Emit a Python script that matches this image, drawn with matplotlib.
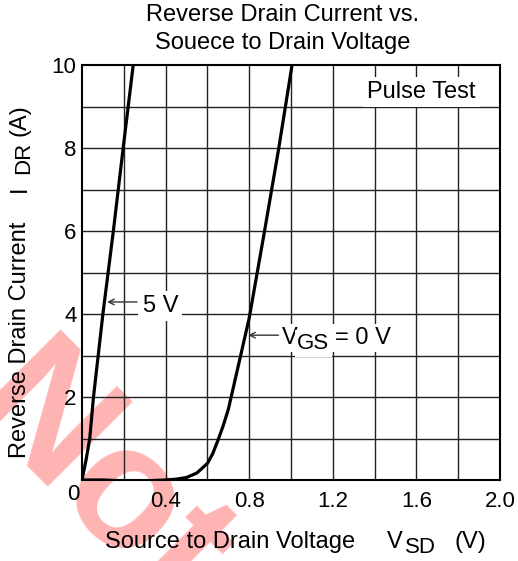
import numpy as np
import matplotlib
matplotlib.use("Agg")
import matplotlib.pyplot as plt

plt.rcParams['font.family'] = ['Liberation Sans', 'DejaVu Sans']

# curve readings (V_SD in V, I_DR in A)
vsd_5v = [0.0, 0.02, 0.037, 0.055, 0.10, 0.15, 0.197, 0.245]
idr_5v = [0.0, 0.5, 1.0, 2.0, 4.0, 6.0, 8.0, 10.0]

vsd_0v = [0.0, 0.1, 0.2, 0.3, 0.4, 0.45, 0.5, 0.55, 0.6, 0.625, 0.65, 0.675, 0.7, 0.75, 0.8, 0.87, 0.94, 1.005]
idr_0v = [0.0, 0.0, -0.02, -0.02, 0.0, 0.02, 0.06, 0.17, 0.4, 0.63, 0.95, 1.3, 1.7, 2.8, 3.9, 5.9, 7.95, 10.0]

x_ticks = [0.4, 0.8, 1.2, 1.6, 2.0]
x_ticklabels = ['0.4', '0.8', '1.2', '1.6', '2.0']
y_ticks = [2, 4, 6, 8, 10]
y_ticklabels = ['2', '4', '6', '8', '10']

W, H = 518, 561
def fx(px):
    return px / W
def fy(py):
    return 1 - py / H

fig = plt.figure(figsize=(5.18, 5.61), dpi=100)
ax = fig.add_axes([fx(82), fy(480), 418/W, 415/H])
ax.patch.set_alpha(0)

# watermark behind the plot
fig.text(fx(97), fy(484), 'Not', color='#ffb4b4', fontsize=125,
         fontweight='bold', rotation=-45,
         ha='center', va='center', zorder=-1)

ax.set_xlim(0, 2.0)
ax.set_ylim(0, 10)
for x in np.arange(0.2, 2.0, 0.2):
    ax.axvline(x, color='#222222', lw=1.0, zorder=1)
for y in range(1, 10):
    ax.axhline(y, color='#222222', lw=1.0, zorder=1)

ax.plot(vsd_5v, idr_5v, color='black', lw=2.3, zorder=3)
ax.plot(vsd_0v, idr_0v, color='black', lw=2.3, zorder=3)

ax.set_xticks(x_ticks)
ax.set_xticklabels(x_ticklabels)
ax.set_yticks(y_ticks)
ax.set_yticklabels(y_ticklabels)
ax.tick_params(length=0, labelsize=16, pad=4)
ax.tick_params(axis='x', pad=8)
ax.text(-0.01, -0.1, '0', fontsize=16, ha='right', va='top')

for s in ax.spines.values():
    s.set_linewidth(1.5)
    s.set_zorder(4)

white = dict(facecolor='white', edgecolor='none', pad=2)

# Pulse Test
ax.text(1.364, 9.2, 'Pulse Test', fontsize=17, ha='left', va='baseline', zorder=5,
        bbox=dict(facecolor='white', edgecolor='none', pad=3))

# 5 V label and arrow
ax.text(0.29, 4.05, '5 V', fontsize=17, ha='left', va='baseline', zorder=5,
        bbox=dict(facecolor='white', edgecolor='none', pad=3))
ax.annotate('', xy=(0.12, 4.29), xytext=(0.263, 4.29), zorder=6,
            arrowprops=dict(arrowstyle='->', color='#333333', lw=1.0, shrinkA=0, shrinkB=0))

# V_GS = 0 V label and arrow
ax.text(0.957, 3.28, 'V', fontsize=17, ha='left', va='baseline', zorder=5, bbox=white)
ax.text(1.03, 3.16, 'GS', fontsize=16, ha='left', va='baseline', zorder=5, bbox=white)
ax.text(1.21, 3.28, '= 0 V', fontsize=17, ha='left', va='baseline', zorder=5, bbox=white)
ax.annotate('', xy=(0.795, 3.49), xytext=(0.94, 3.49), zorder=6,
            arrowprops=dict(arrowstyle='->', color='#333333', lw=1.0, shrinkA=0, shrinkB=0))

# title
fig.text(fx(283), fy(15), 'Reverse Drain Current vs.', fontsize=17, ha='center', va='center')
fig.text(fx(283), fy(43), 'Souece to Drain Voltage', fontsize=17, ha='center', va='center')

# x label with lowered subscript
fig.text(fx(105), fy(548), 'Source to Drain Voltage', fontsize=17, ha='left', va='baseline')
fig.text(fx(387), fy(548), 'V', fontsize=17, ha='left', va='baseline')
fig.text(fx(405), fy(553), 'SD', fontsize=16, ha='left', va='baseline')
fig.text(fx(454), fy(548), '(V)', fontsize=17, ha='left', va='baseline')

# y label with lowered subscript (rotated)
rot = dict(rotation=90, rotation_mode='anchor', ha='left', va='baseline')
fig.text(fx(26), fy(458), 'Reverse Drain Current', fontsize=17, **rot)
fig.text(fx(26), fy(192), 'I', fontsize=17, **rot)
fig.text(fx(29), fy(174), 'DR', fontsize=16, **rot)
fig.text(fx(26), fy(136), '(A)', fontsize=17, **rot)

fig.savefig('out.png', dpi=100)
